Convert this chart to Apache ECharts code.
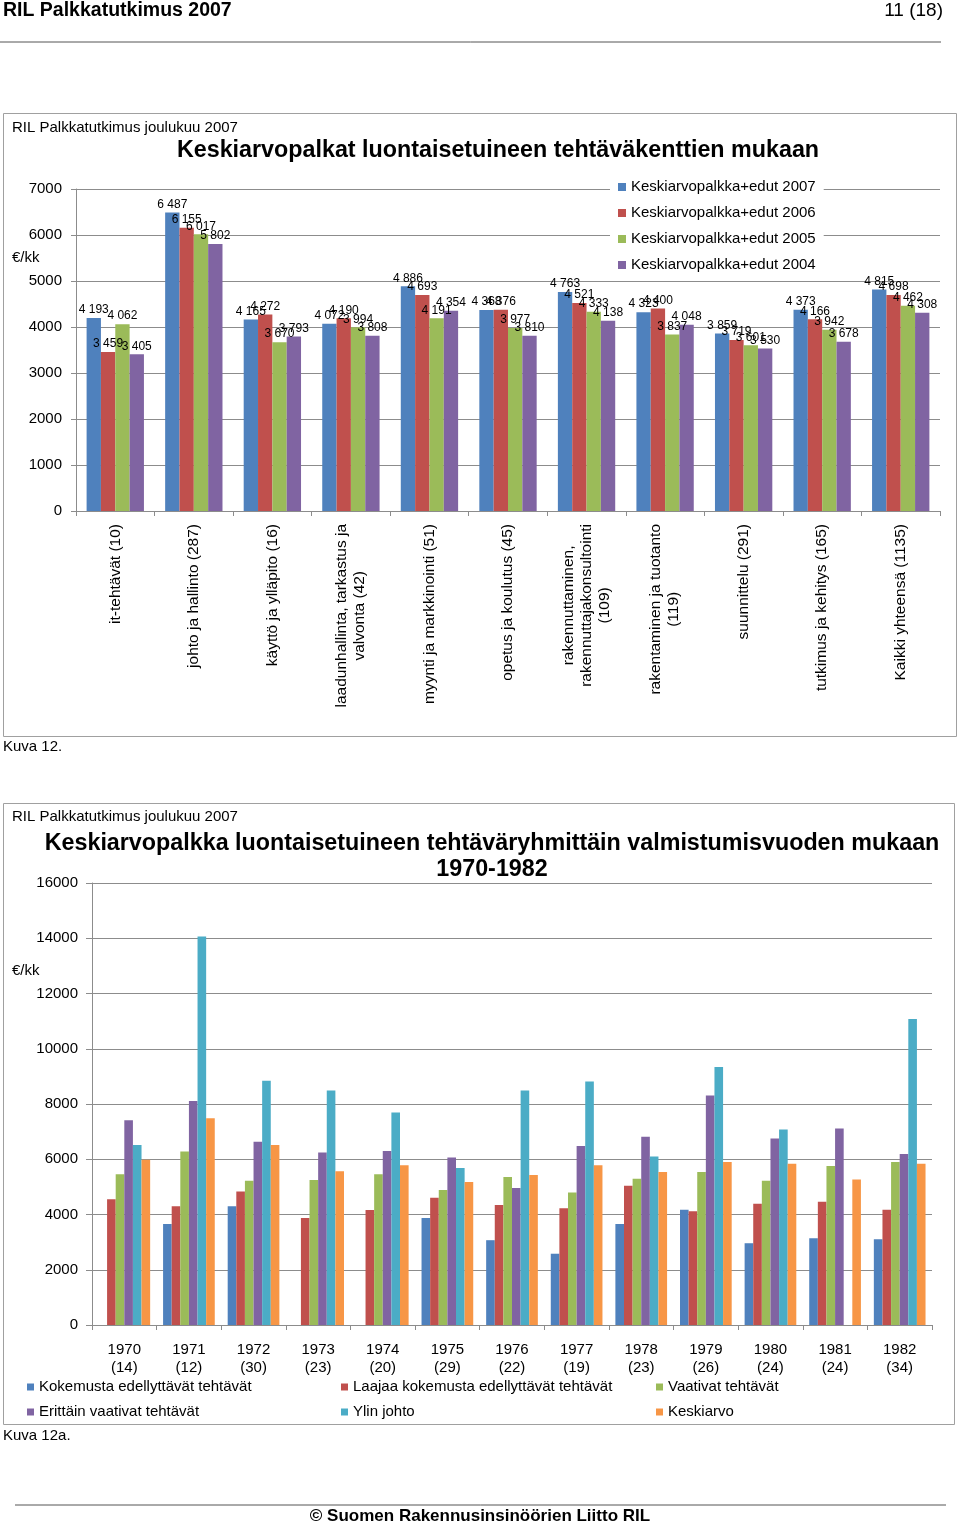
<!DOCTYPE html>
<html><head><meta charset="utf-8">
<script src="https://cdn.jsdelivr.net/npm/echarts@6/dist/echarts.min.js"></script>
<style>html,body{margin:0;padding:0;background:#fff;}#c{width:960px;height:1524px;}</style>
</head><body><div id="c"></div>
<script>
// ---- Chart 1 data ----
const categories1 = [
  'it-tehtävät (10)',
  'johto ja hallinto (287)',
  'käyttö ja ylläpito (16)',
  'laadunhallinta, tarkastus ja\nvalvonta (42)',
  'myynti ja markkinointi (51)',
  'opetus ja koulutus (45)',
  'rakennuttaminen,\nrakennuttajakonsultointi\n(109)',
  'rakentaminen ja tuotanto\n(119)',
  'suunnittelu (291)',
  'tutkimus ja kehitys (165)',
  'Kaikki yhteensä (1135)'
];
const names1 = ['Keskiarvopalkka+edut 2007','Keskiarvopalkka+edut 2006','Keskiarvopalkka+edut 2005','Keskiarvopalkka+edut 2004'];
const v2007 = [4193, 6487, 4165, 4072, 4886, 4368, 4763, 4323, 3859, 4373, 4815];
const v2006 = [3459, 6155, 4272, 4190, 4693, 4376, 4521, 4400, 3719, 4166, 4698];
const v2005 = [4062, 6017, 3670, 3994, 4191, 3977, 4333, 3837, 3601, 3942, 4462];
const v2004 = [3405, 5802, 3793, 3808, 4354, 3810, 4138, 4048, 3530, 3678, 4308];
const yTicks1 = [0, 7000, 1000];

// ---- Chart 2 data ----
const years2 = ['1970\n(14)','1971\n(12)','1972\n(30)','1973\n(23)','1974\n(20)','1975\n(29)','1976\n(22)','1977\n(19)','1978\n(23)','1979\n(26)','1980\n(24)','1981\n(24)','1982\n(34)'];
const names2 = ['Kokemusta edellyttävät tehtävät','Laajaa kokemusta edellyttävät tehtävät','Vaativat tehtävät','Erittäin vaativat tehtävät','Ylin johto','Keskiarvo'];
const kokemusta   = [null, 3660, 4300, null, null, 3870, 3070, 2580, 3660, 4170, 2960, 3140, 3100];
const laajaa      = [4550, 4300, 4830, 3870, 4160, 4610, 4340, 4230, 5040, 4120, 4390, 4460, 4170];
const vaativat    = [5460, 6280, 5220, 5250, 5460, 4890, 5360, 4800, 5290, 5540, 5220, 5760, 5900];
const erittain    = [7410, 8110, 6630, 6240, 6300, 6060, 4960, 6480, 6810, 8310, 6750, 7110, 6190];
const ylinjohto   = [6520, 14060, 8840, 8490, 7690, 5680, 8490, 8810, 6100, 9340, 7080, null, 11080];
const keskiarvo   = [5980, 7480, 6520, 5570, 5780, 5180, 5430, 5780, 5540, 5900, 5840, 5270, 5840];
const yTicks2 = [0, 16000, 2000];

const colors1 = ['#4F81BD','#C0504D','#9BBB59','#8064A2'];
const colors2 = ['#4F81BD','#C0504D','#9BBB59','#8064A2','#4BACC6','#F79646'];
const FONT = '"Liberation Sans", Arial, sans-serif';
const GRID = '#8c8c8c';

function fmt(v){ return String(v).replace(/\B(?=(\d{3})+(?!\d))/g, ' '); }

const chart = echarts.init(document.getElementById('c'), null, {renderer:'canvas'});

const vals1 = [v2007, v2006, v2005, v2004];
const vals2 = [kokemusta, laajaa, vaativat, erittain, ylinjohto, keskiarvo];

const series = [];
vals1.forEach((d, i) => {
  series.push({
    name: names1[i], type: 'bar', xAxisIndex: 0, yAxisIndex: 0, data: d,
    barGap: '0%', barCategoryGap: '27%',
    itemStyle: {color: colors1[i]},
    label: {show: true, position: 'top', distance: 2, color: '#000', fontSize: 12, fontFamily: FONT,
            formatter: p => fmt(p.value)}
  });
});
vals2.forEach((d, i) => {
  series.push({
    name: names2[i], type: 'bar', xAxisIndex: 1, yAxisIndex: 1, data: d,
    barGap: '0%', barCategoryGap: '20%',
    itemStyle: {color: colors2[i]}
  });
});

const txt = (x, y, text, size, weight, align, extra) => Object.assign({
  type: 'text', x: x, y: y,
  style: {text: text, fontSize: size, fontWeight: weight || 'normal', fontFamily: FONT, fill: '#000',
          align: align || 'left', verticalAlign: 'middle'}
}, extra || {});

const option = {
  animation: false,
  textStyle: {fontFamily: FONT},
  title: [
    {text: 'Keskiarvopalkat luontaisetuineen tehtäväkenttien mukaan', left: 493, top: 134, textAlign: 'center',
     textStyle: {fontSize: 23.3, fontWeight: 'bold', color: '#000', fontFamily: FONT}},
    {text: '{t|Keskiarvopalkka luontaisetuineen tehtäväryhmittäin valmistumisvuoden mukaan}\n{t|1970-1982}', left: 487, top: 826, textAlign: 'center',
     textStyle: {fontSize: 23.3, fontWeight: 'bold', color: '#000', fontFamily: FONT, lineHeight: 26,
       rich: {t: {fontSize: 23.3, fontWeight: 'bold', color: '#000', fontFamily: FONT, lineHeight: 26, align: 'center'}}}}
  ],
  graphic: [
    txt(3, 11, 'RIL Palkkatutkimus 2007', 19.5, 'bold'),
    txt(943, 11, '11 (18)', 19, 'normal', 'right'),
    {type: 'line', shape: {x1: 0, y1: 42, x2: 941, y2: 42}, style: {stroke: '#555', lineWidth: 1}},
    {type: 'rect', shape: {x: 3.5, y: 113.5, width: 953, height: 623}, style: {fill: 'none', stroke: '#a0a0a0', lineWidth: 1}},
    txt(12, 128, 'RIL Palkkatutkimus joulukuu 2007', 15),
    txt(12, 258, '€/kk', 15),
    txt(3, 747, 'Kuva 12.', 15),
    {type: 'rect', shape: {x: 3.5, y: 803.5, width: 951, height: 621}, style: {fill: 'none', stroke: '#a0a0a0', lineWidth: 1}},
    txt(12, 817, 'RIL Palkkatutkimus joulukuu 2007', 15),
    txt(12, 971, '€/kk', 15),
    txt(3, 1436, 'Kuva 12a.', 15),
    {type: 'line', shape: {x1: 15, y1: 1505, x2: 946, y2: 1505}, style: {stroke: '#555', lineWidth: 1}},
    txt(480, 1516, '© Suomen Rakennusinsinöörien Liitto RIL', 17, 'bold', 'center')
  ],
  legend: [
    {data: names1, orient: 'vertical', left: 610, top: 172, padding: [6, 8, 6, 8], backgroundColor: '#fff',
     itemWidth: 8, itemHeight: 8, itemGap: 8, icon: 'rect',
     textStyle: {fontSize: 15, color: '#000', lineHeight: 18, fontFamily: FONT}},
    {data: [names2[0], names2[3]], orient: 'vertical', left: 27, top: 1378, padding: 0,
     itemWidth: 7, itemHeight: 7, itemGap: 7, icon: 'rect',
     textStyle: {fontSize: 15, color: '#000', lineHeight: 18, fontFamily: FONT}},
    {data: [names2[1], names2[4]], orient: 'vertical', left: 341, top: 1378, padding: 0,
     itemWidth: 7, itemHeight: 7, itemGap: 7, icon: 'rect',
     textStyle: {fontSize: 15, color: '#000', lineHeight: 18, fontFamily: FONT}},
    {data: [names2[2], names2[5]], orient: 'vertical', left: 656, top: 1378, padding: 0,
     itemWidth: 7, itemHeight: 7, itemGap: 7, icon: 'rect',
     textStyle: {fontSize: 15, color: '#000', lineHeight: 18, fontFamily: FONT}}
  ],
  grid: [
    {left: 76, top: 189, width: 864, height: 322},
    {left: 92, top: 883, width: 840, height: 442}
  ],
  xAxis: [
    {type: 'category', gridIndex: 0, data: categories1,
     axisLine: {lineStyle: {color: GRID}}, axisTick: {show: true, length: 5, lineStyle: {color: GRID}},
     axisLabel: {rotate: 90, interval: 0, margin: 13, color: '#000',
       formatter: v => v.split('\n').map(l => '{a|' + l + '}').join('\n'),
       rich: {a: {fontSize: 15.5, lineHeight: 18, align: 'center', color: '#000', fontFamily: FONT}}}},
    {type: 'category', gridIndex: 1, data: years2,
     axisLine: {lineStyle: {color: GRID}}, axisTick: {show: true, length: 5, lineStyle: {color: GRID}},
     axisLabel: {interval: 0, margin: 16, color: '#000', fontSize: 15, lineHeight: 18, fontFamily: FONT}}
  ],
  yAxis: [
    {type: 'value', gridIndex: 0, min: yTicks1[0], max: yTicks1[1], interval: yTicks1[2],
     axisLine: {show: true, lineStyle: {color: GRID}}, axisTick: {show: true, length: 5, lineStyle: {color: GRID}},
     splitLine: {lineStyle: {color: GRID}},
     axisLabel: {color: '#000', fontSize: 15, margin: 14, fontFamily: FONT, formatter: v => String(v)}},
    {type: 'value', gridIndex: 1, min: yTicks2[0], max: yTicks2[1], interval: yTicks2[2],
     axisLine: {show: true, lineStyle: {color: GRID}}, axisTick: {show: true, length: 6, lineStyle: {color: GRID}},
     splitLine: {lineStyle: {color: GRID}},
     axisLabel: {color: '#000', fontSize: 15, margin: 14, fontFamily: FONT, formatter: v => String(v)}}
  ],
  series: series
};
chart.setOption(option);
</script></body></html>
